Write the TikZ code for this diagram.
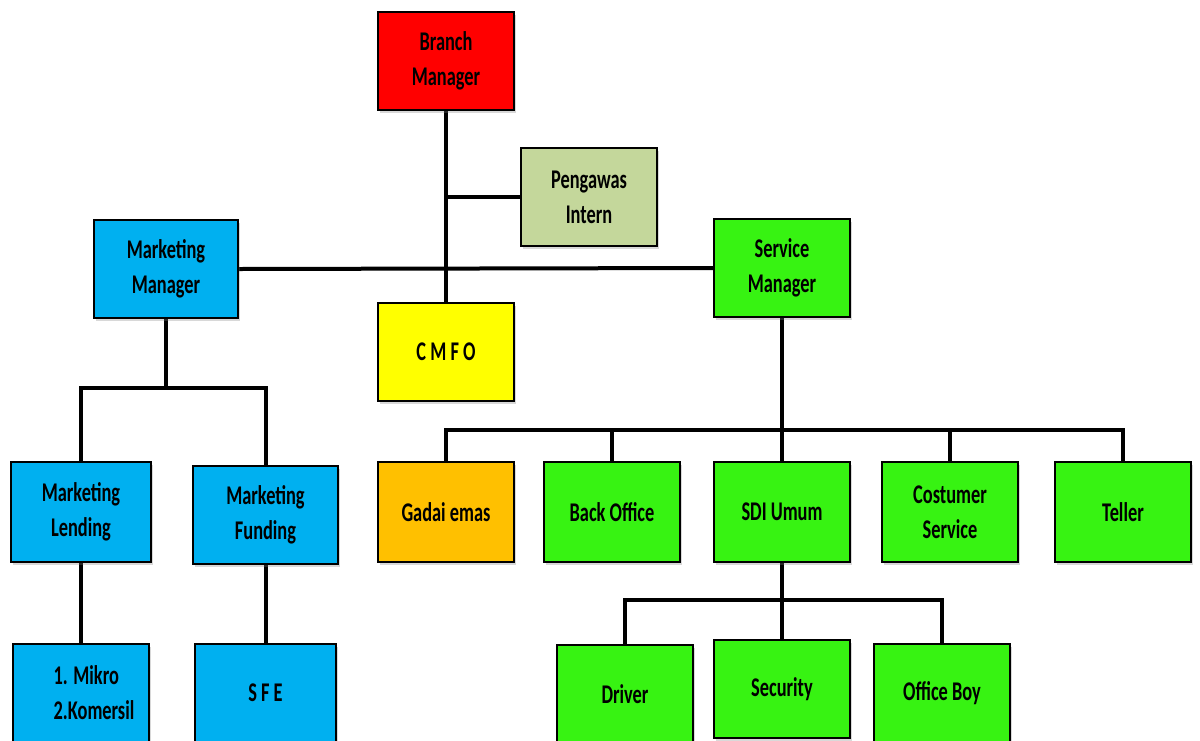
\documentclass[tikz,border=0pt]{standalone}
\usepackage{fontspec}
\setmainfont{Carlito}[FakeStretch=0.68]
\usetikzlibrary{shadows,backgrounds}
\definecolor{cRed}{RGB}{255,0,0}
\definecolor{cOlive}{RGB}{196,215,155}
\definecolor{cBlue}{RGB}{0,176,240}
\definecolor{cYellow}{RGB}{255,255,0}
\definecolor{cOrange}{RGB}{255,192,0}
\definecolor{cGreen}{RGB}{55,243,18}
\begin{document}
\begin{tikzpicture}[x=1pt,y=-1pt,
  box/.style={draw=black, line width=2pt, minimum width=136pt, minimum height=98pt,
    align=center, inner sep=0pt, font=\fontsize{27}{35}\selectfont\bfseries,
    drop shadow={shadow xshift=2pt, shadow yshift=-3pt, opacity=0.3}},
  conn/.style={draw=black, line width=4pt, line join=miter}]
\useasboundingbox (0,0) rectangle (1200,740);

% top
\node[box, fill=cRed] (bm) at (446,61) {Branch\\Manager};
\node[box, fill=cOlive] (pi) at (589,197) {Pengawas\\Intern};
\node[box, fill=cBlue, minimum width=144pt] (mm) at (166,269) {Marketing\\Manager};
\node[box, fill=cGreen] (sm) at (782,268) {Service\\Manager};
\node[box, fill=cYellow] (cmfo) at (446,352) {C M F O};

% marketing side
\node[box, fill=cBlue, minimum width=140pt, minimum height=100pt] (ml) at (81,512) {Marketing\\Lending};
\node[box, fill=cBlue, minimum width=145pt] (mf) at (265.5,514.5) {Marketing\\Funding};
\node[box, fill=cBlue, align=left] (mk) at (81,693) {\hspace*{26pt}1. Mikro\\\hspace*{26pt}2.Komersil};
\node[box, fill=cBlue, minimum width=141pt] (sfe) at (265.5,693) {S F E};

% service side
\node[box, fill=cOrange, minimum height=100pt] (ge) at (446,512) {Gadai emas};
\node[box, fill=cGreen, minimum height=100pt] (bo) at (612,512) {Back Office};
\node[box, fill=cGreen, minimum height=100pt] (sdi) at (782,512) {SDI Umum};
\node[box, fill=cGreen, minimum height=100pt] (cs) at (950,512) {Costumer\\Service};
\node[box, fill=cGreen, minimum height=100pt] (tl) at (1123,512) {Teller};

% SDI Umum children
\node[box, fill=cGreen] (drv) at (625,694) {Driver};
\node[box, fill=cGreen] (sec) at (782,689) {Security};
\node[box, fill=cGreen] (ob) at (942,693) {Office Boy};

\coordinate (mj) at (166,388);
\coordinate (sj) at (782,430);
\coordinate (dj) at (782,600);

\begin{scope}[on background layer]
  \fill[white] (0,0) rectangle (1200,740);
  \draw[conn] (bm.south) -- (cmfo.north);
  \draw[conn] (pi.west) -- (pi.west -| bm.south);
  \draw[conn] (mm.east) -- (sm.west);
  \draw[conn] (mm.south) -- (mj);
  \draw[conn] (ml.north) |- (mj) -| (mf.north);
  \draw[conn] (ml.south) -- (mk.north);
  \draw[conn] (mf.south) -- (sfe.north);
  \draw[conn] (sm.south) -- (sj);
  \draw[conn] (ge.north) |- (sj) -| (tl.north);
  \draw[conn] (bo.north) -- (bo.north |- sj);
  \draw[conn] (sdi.north) -- (sj);
  \draw[conn] (cs.north) -- (cs.north |- sj);
  \draw[conn] (sdi.south) -- (dj);
  \draw[conn] (drv.north) |- (dj) -| (ob.north);
  \draw[conn] (sec.north) -- (dj);
\end{scope}
\end{tikzpicture}
\end{document}
